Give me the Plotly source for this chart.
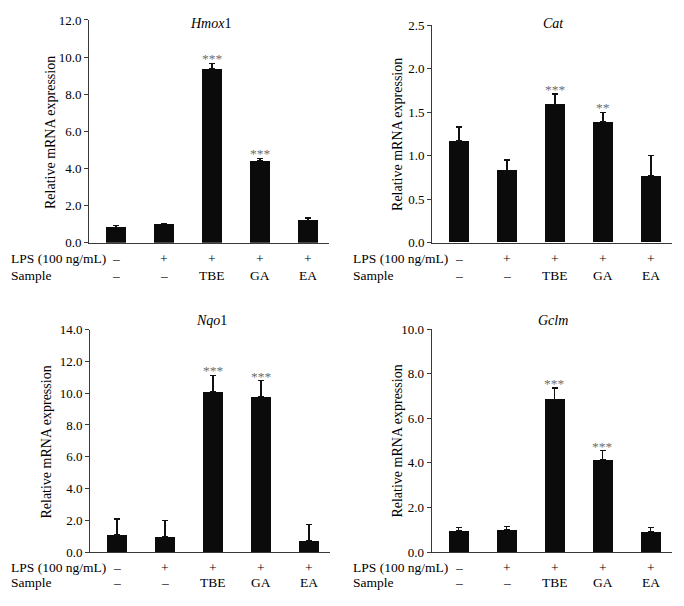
import plotly.graph_objects as go

W, H = 684, 606

# ---- data ----
positions = [0, 1, 2, 3, 4]
lps_labels = ["–", "+", "+", "+", "+"]
sample_labels = ["–", "–", "TBE", "GA", "EA"]

genes = ["Hmox1", "Cat", "Nqo1", "Gclm"]
gene_titles = ["<i>Hmox</i>1", "<i>Cat</i>", "<i>Nqo</i>1", "<i>Gclm</i>"]

hmox1_mean = [0.84, 1.02, 9.37, 4.41, 1.21]
hmox1_err = [0.08, 0.03, 0.30, 0.13, 0.12]
hmox1_sig = ["", "", "***", "***", ""]

cat_mean = [1.17, 0.83, 1.59, 1.39, 0.77]
cat_err = [0.16, 0.12, 0.12, 0.11, 0.23]
cat_sig = ["", "", "***", "**", ""]

nqo1_mean = [1.08, 1.00, 10.11, 9.79, 0.72]
nqo1_err = [1.01, 1.00, 1.01, 1.00, 1.00]
nqo1_sig = ["", "", "***", "***", ""]

gclm_mean = [0.96, 1.00, 6.85, 4.15, 0.92]
gclm_err = [0.16, 0.15, 0.51, 0.40, 0.17]
gclm_sig = ["", "", "***", "***", ""]

y_ranges = [[0, 12], [0, 2.5], [0, 14], [0, 10]]
y_dticks = [2, 0.5, 2, 2]

means = [hmox1_mean, cat_mean, nqo1_mean, gclm_mean]
errs = [hmox1_err, cat_err, nqo1_err, gclm_err]
sigs = [hmox1_sig, cat_sig, nqo1_sig, gclm_sig]

# ---- layout geometry (pixels) ----
# (x_left, x_right, y_top, y_bottom)
panels = [
    (89, 329, 13.3, 241.7),
    (432, 672, 18.7, 241.7),
    (90, 330, 330.8, 559),
    (431.5, 671.5, 330.2, 559),
]
title_y = [17, 17, 321, 321]
ytitle_x = [50.7, 398, 46.7, 398]
row_y = [(258.3, 275.7), (258.3, 275.7), (574.7, 590.3), (574.7, 590.3)]
row_label_x = [9.3, 351.3, 9.3, 351.3]

def px(x):
    return x / W

def py(y):
    return 1 - y / H

FONT = "Liberation Serif"
AXC = "#3a3a3a"
TXT = "#000000"

fig = go.Figure()
annotations = []

for k in range(4):
    xl, xr, yt, yb = panels[k]
    sfx = "" if k == 0 else str(k + 1)
    xa = "x" + sfx
    ya = "y" + sfx
    fig.add_trace(go.Bar(
        x=positions, y=means[k], width=0.41,
        marker=dict(color="#0b0b0b", line=dict(width=0)),
        error_y=dict(type="data", symmetric=False, array=errs[k],
                     arrayminus=[0] * 5, color="#111111",
                     thickness=1.2, width=3),
        xaxis=xa, yaxis=ya, showlegend=False,
    ))
    fig.update_layout(**{
        "xaxis" + sfx: dict(
            domain=[px(xl), px(xr)], range=[-0.5625, 4.4375],
            anchor=ya, showticklabels=False, ticks="", showgrid=False,
            zeroline=False, showline=True, linecolor=AXC, linewidth=1,
            fixedrange=True,
        ),
        "yaxis" + sfx: dict(
            domain=[py(yb), py(yt)], range=y_ranges[k], dtick=y_dticks[k],
            tick0=0, tickformat=".1f", anchor=xa, showgrid=False,
            zeroline=False, showline=True, linecolor=AXC, linewidth=1,
            ticks="outside", ticklen=4, tickcolor=AXC, tickwidth=1,
            tickfont=dict(family=FONT, size=13, color=TXT),
            fixedrange=True,
        ),
    })
    # gene title
    annotations.append(dict(
        text=gene_titles[k], x=px((xl + xr) / 2 + 1), y=py(title_y[k]),
        xref="paper", yref="paper", showarrow=False,
        xanchor="center", yanchor="middle",
        font=dict(family=FONT, size=14, color=TXT),
    ))
    # y axis title
    annotations.append(dict(
        text="Relative mRNA expression", x=px(ytitle_x[k]),
        y=py((yt + yb) / 2 + 1), xref="paper", yref="paper",
        showarrow=False, textangle=-90, xanchor="center", yanchor="middle",
        font=dict(family=FONT, size=14, color=TXT),
    ))
    # significance stars
    for i in positions:
        if sigs[k][i]:
            annotations.append(dict(
                text=sigs[k][i], x=i, y=means[k][i] + errs[k][i],
                xref=xa, yref=ya, showarrow=False,
                xanchor="center", yanchor="bottom", yshift=-5,
                font=dict(family=FONT, size=13.5, color="#6e6e6e"),
            ))
    # row labels
    ly, sy = row_y[k]
    annotations.append(dict(
        text="LPS (100 ng/mL)", x=px(row_label_x[k]), y=py(ly),
        xref="paper", yref="paper", showarrow=False,
        xanchor="left", yanchor="middle",
        font=dict(family=FONT, size=13.5, color=TXT),
    ))
    annotations.append(dict(
        text="Sample", x=px(row_label_x[k]), y=py(sy),
        xref="paper", yref="paper", showarrow=False,
        xanchor="left", yanchor="middle",
        font=dict(family=FONT, size=13.5, color=TXT),
    ))
    for i in positions:
        annotations.append(dict(
            text=lps_labels[i], x=i, y=py(ly), xref=xa, yref="paper",
            showarrow=False, xanchor="center", yanchor="middle",
            font=dict(family=FONT, size=13.5, color=TXT),
        ))
        annotations.append(dict(
            text=sample_labels[i], x=i, y=py(sy), xref=xa, yref="paper",
            showarrow=False, xanchor="center", yanchor="middle",
            font=dict(family=FONT, size=13.5, color=TXT),
        ))

fig.update_layout(
    width=W, height=H,
    margin=dict(l=0, r=0, t=0, b=0),
    paper_bgcolor="white", plot_bgcolor="white",
    annotations=annotations,
    bargap=0,
)

fig.write_html(
    "out.html",
    config={"displayModeBar": False},
    post_script="document.body.style.margin='0';document.body.style.overflow='hidden';",
)
